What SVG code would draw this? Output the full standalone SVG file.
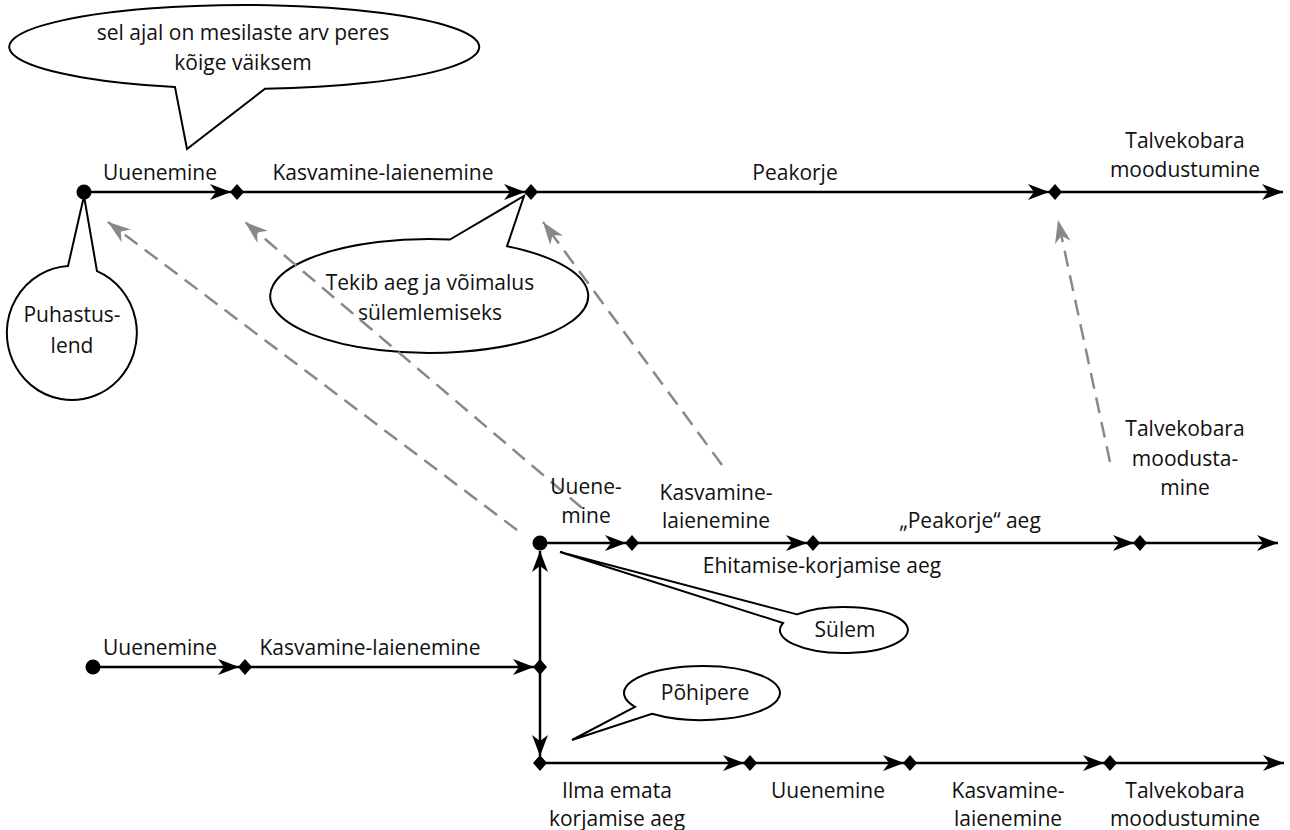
<svg xmlns="http://www.w3.org/2000/svg" width="1290" height="830" viewBox="0 0 1290 830">
<style>
text{font-family:"Open Sans","Noto Sans","Liberation Sans",sans-serif;font-size:21px;fill:#111;text-anchor:middle}
.ln{stroke:#000;stroke-width:2.5;fill:none;marker-end:url(#ah)}
.ds{stroke:#888;stroke-width:2.5;fill:none;stroke-dasharray:16 9;marker-end:url(#gh)}
.co{fill:#fff;stroke:#000;stroke-width:2}
.dot{fill:#000}
</style>
<defs>
<marker id="ah" markerUnits="userSpaceOnUse" markerWidth="22" markerHeight="16" refX="21" refY="8" orient="auto"><path d="M0,0 L21,8 L0,16 L6,8 Z" fill="#000"/></marker>
<marker id="gh" markerUnits="userSpaceOnUse" markerWidth="24" markerHeight="16" refX="23" refY="8" orient="auto"><path d="M0,0 L23,8 L0,16 L7,8 Z" fill="#888"/></marker>
<path id="dm" d="M-7,0 L0,-8 L7,0 L0,8 Z" fill="#000"/>
</defs>
<g id="callout-top">
<path class="co" d="M175,87.1 L187,149 L265,88.8 A235 42 0 1 0 175,87.1 Z"/>
<text x="243" y="40">sel ajal on mesilaste arv peres</text>
<text x="243" y="70">kõige väiksem</text>
</g>
<g id="callout-puhastuslend">
<path class="co" d="M68,266.1 L84,196 L97,271.2 A65 67 0 1 1 68,266.1 Z"/>
<text x="72" y="322">Puhastus-</text>
<text x="72" y="353">lend</text>
</g>
<g id="callout-tekib">
<path class="co" d="M450,239.5 L524,196 L507,246.3 A159 57 0 1 1 450,239.5 Z"/>
<text x="430" y="290">Tekib aeg ja võimalus</text>
<text x="430" y="320">sülemlemiseks</text>
</g>
<g id="callout-sulem">
<path class="co" d="M797,614.4 L560,552 L783,623 A64 23 0 1 0 797,614.4 Z"/>
<text x="845" y="637">Sülem</text>
</g>
<g id="callout-pohipere">
<path class="co" d="M635,706.8 L572,740 L652,713.7 A78 27 0 1 0 635,706.8 Z"/>
<text x="705" y="700">Põhipere</text>
</g>
<g id="connectors">
<line class="ln" x1="84" y1="192" x2="231" y2="192"/>
<line class="ln" x1="237" y1="192" x2="525" y2="192"/>
<line class="ln" x1="531" y1="192" x2="1049" y2="192"/>
<line class="ln" x1="1055" y1="192" x2="1283" y2="192"/>
<line class="ln" x1="540" y1="543" x2="626" y2="543"/>
<line class="ln" x1="632" y1="543" x2="807" y2="543"/>
<line class="ln" x1="813" y1="543" x2="1134" y2="543"/>
<line class="ln" x1="1140" y1="543" x2="1278" y2="543"/>
<line class="ln" x1="93" y1="667" x2="239" y2="667"/>
<line class="ln" x1="245" y1="667" x2="534" y2="667"/>
<line class="ln" x1="540" y1="667" x2="540" y2="551"/>
<line class="ln" x1="540" y1="667" x2="540" y2="756"/>
<line class="ln" x1="540" y1="763" x2="744" y2="763"/>
<line class="ln" x1="750" y1="763" x2="904" y2="763"/>
<line class="ln" x1="910" y1="763" x2="1104" y2="763"/>
<line class="ln" x1="1110" y1="763" x2="1284" y2="763"/>
<line class="ds" x1="517" y1="530" x2="108" y2="222"/>
<line class="ds" x1="582" y1="508" x2="245" y2="222"/>
<line class="ds" x1="722" y1="465" x2="543" y2="222"/>
<line class="ds" x1="1110" y1="462" x2="1058" y2="220"/>
</g>
<g id="points">
<circle class="dot" cx="84" cy="192" r="7.5"/>
<use href="#dm" x="237" y="192"/>
<use href="#dm" x="531" y="192"/>
<use href="#dm" x="1055" y="192"/>
<circle class="dot" cx="540" cy="543" r="7.5"/>
<use href="#dm" x="632" y="543"/>
<use href="#dm" x="813" y="543"/>
<use href="#dm" x="1140" y="543"/>
<circle class="dot" cx="93" cy="667" r="7.5"/>
<use href="#dm" x="245" y="667"/>
<use href="#dm" x="540" y="667"/>
<use href="#dm" x="540" y="763"/>
<use href="#dm" x="750" y="763"/>
<use href="#dm" x="910" y="763"/>
<use href="#dm" x="1110" y="763"/>
</g>
<g id="labels-top">
<text x="160" y="180">Uuenemine</text>
<text x="383" y="180">Kasvamine-laienemine</text>
<text x="795" y="180">Peakorje</text>
<text x="1185" y="148">Talvekobara</text>
<text x="1185" y="177">moodustumine</text>
</g>
<g id="labels-middle">
<text x="586" y="494">Uuene-</text>
<text x="586" y="523">mine</text>
<text x="716" y="500">Kasvamine-</text>
<text x="716" y="528">laienemine</text>
<text x="970" y="528">„Peakorje“ aeg</text>
<text x="822" y="573">Ehitamise-korjamise aeg</text>
<text x="1185" y="436">Talvekobara</text>
<text x="1185" y="466">moodusta-</text>
<text x="1185" y="495">mine</text>
</g>
<g id="labels-left">
<text x="160" y="655">Uuenemine</text>
<text x="370" y="655">Kasvamine-laienemine</text>
</g>
<g id="labels-bottom">
<text x="617" y="798">Ilma emata</text>
<text x="617" y="826">korjamise aeg</text>
<text x="828" y="798">Uuenemine</text>
<text x="1008" y="798">Kasvamine-</text>
<text x="1008" y="826">laienemine</text>
<text x="1185" y="798">Talvekobara</text>
<text x="1185" y="826">moodustumine</text>
</g>
</svg>
